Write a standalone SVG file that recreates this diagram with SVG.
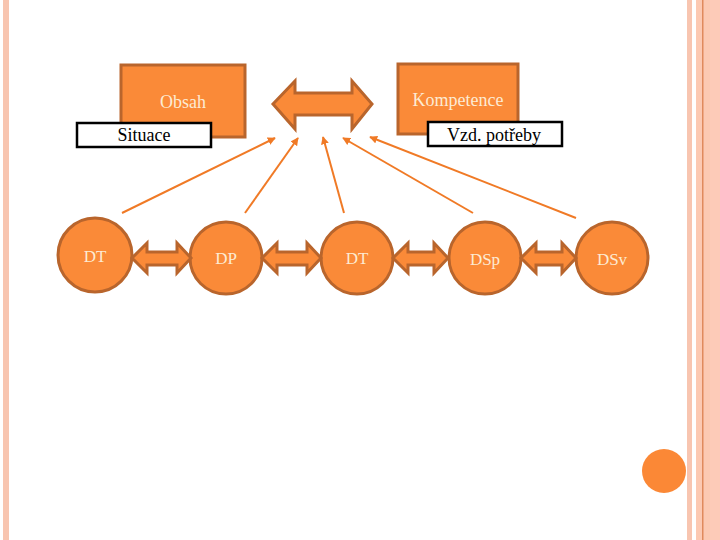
<svg xmlns="http://www.w3.org/2000/svg" width="720" height="540" viewBox="0 0 720 540">
<style>
.box{fill:#FA8A38;stroke:#B9652C;stroke-width:3}
.lbl{fill:#fff;stroke:#000;stroke-width:2.5}
.node{fill:#FA8A38;stroke:#B9652C;stroke-width:3}
.dbl{fill:#FA8A38;stroke:#B9652C;stroke-width:3;stroke-linejoin:miter}
.ln{stroke:#F07A26;stroke-width:2;fill:none;marker-end:url(#ah)}
text{font-family:'Liberation Serif','Times New Roman','DejaVu Serif',serif}
.wt{font-size:17px;fill:#FDEBD3;text-anchor:middle}
.bt{font-size:18px;fill:#000;text-anchor:middle}
</style>
<defs>
<marker id="ah" viewBox="0 0 10 10" refX="9" refY="5" markerWidth="4" markerHeight="4" orient="auto">
<path d="M0,0 L10,5 L0,10 z" fill="#F07A26"/>
</marker>
</defs>
<rect width="720" height="540" fill="#fff"/>
<g id="border">
<rect x="3" y="0" width="6" height="540" fill="#F8C5B0"/>
<rect x="687" y="0" width="5" height="540" fill="#F8C5B0"/>
<rect x="696" y="0" width="24" height="540" fill="#FCC9B2"/>
<rect x="702" y="0" width="1.5" height="540" fill="#E08A5C"/>
<rect x="710" y="0" width="10" height="540" fill="#FDCBB8"/>
</g>
<g id="obsah">
<rect class="box" x="121" y="65" width="124" height="72"/>
<text class="wt" x="183" y="108" font-family="Liberation Serif, serif" style="font-size:18px">Obsah</text>
</g>
<g id="kompetence">
<rect class="box" x="398" y="64" width="120" height="70"/>
<text class="wt" x="458" y="106" font-family="Liberation Serif, serif" style="font-size:18px">Kompetence</text>
</g>
<g id="situace">
<rect class="lbl" x="77" y="123" width="134" height="24"/>
<text class="bt" x="144" y="141" font-family="Liberation Serif, serif">Situace</text>
</g>
<g id="vzd">
<rect class="lbl" x="428" y="122" width="134" height="24"/>
<text class="bt" x="494" y="141" font-family="Liberation Serif, serif">Vzd. potřeby</text>
</g>
<g id="top-arrow">
<path class="dbl" d="M273,104 L295,81 L295,93 L352,93 L352,81 L372,104 L352,129 L352,115 L295,115 L295,129 Z"/>
</g>
<g id="n-dt1"><circle class="node" cx="95" cy="255" r="37"/><text class="wt" x="95" y="262" font-family="Liberation Serif, serif">DT</text></g>
<g id="n-dp"><circle class="node" cx="226" cy="258" r="36"/><text class="wt" x="226" y="264" font-family="Liberation Serif, serif">DP</text></g>
<g id="n-dt2"><circle class="node" cx="357" cy="258" r="36"/><text class="wt" x="357" y="264" font-family="Liberation Serif, serif">DT</text></g>
<g id="n-dsp"><circle class="node" cx="485" cy="258" r="36"/><text class="wt" x="485" y="265" font-family="Liberation Serif, serif">DSp</text></g>
<g id="n-dsv"><circle class="node" cx="612" cy="258" r="36"/><text class="wt" x="612" y="265" font-family="Liberation Serif, serif">DSv</text></g>
<g id="connectors">
<path class="dbl" d="M132,258 L147,243 L147,252 L177,252 L177,243 L191,258 L177,273 L177,265 L147,265 L147,273 Z"/>
<path class="dbl" d="M262,258 L277,243 L277,252 L307,252 L307,243 L321,258 L307,273 L307,265 L277,265 L277,273 Z"/>
<path class="dbl" d="M393,258 L408,243 L408,252 L434,252 L434,243 L448,258 L434,273 L434,265 L408,265 L408,273 Z"/>
<path class="dbl" d="M521,258 L536,243 L536,252 L562,252 L562,243 L576,258 L562,273 L562,265 L536,265 L536,273 Z"/>
<line class="ln" x1="122" y1="213" x2="275" y2="138"/>
<line class="ln" x1="245" y1="213" x2="298" y2="138"/>
<line class="ln" x1="344" y1="213" x2="323" y2="137"/>
<line class="ln" x1="473" y1="213" x2="343" y2="138"/>
<line class="ln" x1="576" y1="218" x2="370" y2="137"/>
</g>
<g id="dot"><circle cx="664" cy="471" r="22" fill="#FB8836"/></g>
</svg>
